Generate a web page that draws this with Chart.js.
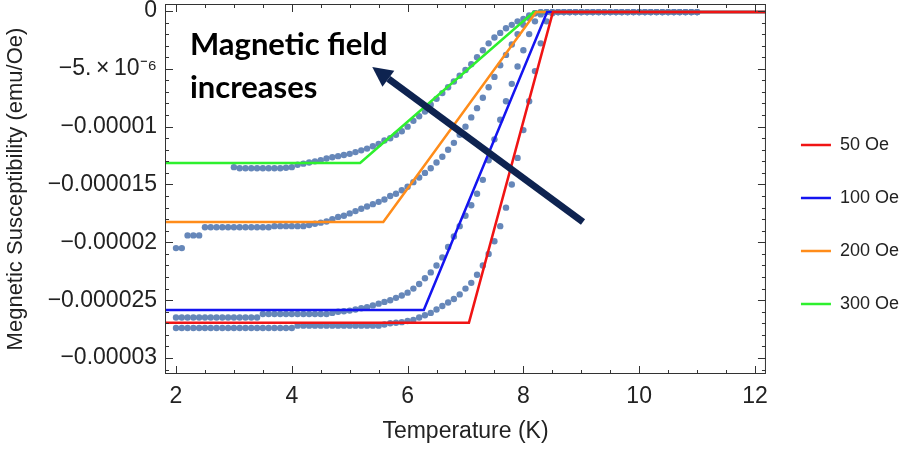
<!DOCTYPE html>
<html>
<head>
<meta charset="utf-8">
<script src="https://cdn.jsdelivr.net/npm/chart.js@4.4.0/dist/chart.umd.min.js"></script>
<style>
  html, body { margin: 0; padding: 0; background: #fff; }
</style>
</head>
<body>
<canvas id="chart" width="909" height="452"></canvas>
<script>
/* =======================
   DATA  (susceptibility in units of 1e-6 emu/Oe)
======================= */
const temps = [2.0,2.1,2.2,2.3,2.4,2.5,2.6,2.7,2.8,2.9,3.0,3.1,3.2,3.3,3.4,3.5,3.6,3.7,3.8,3.9,
  4.0,4.1,4.2,4.3,4.4,4.5,4.6,4.7,4.8,4.9,5.0,5.1,5.2,5.3,5.4,5.5,5.6,5.7,5.8,5.9,
  6.0,6.1,6.2,6.3,6.4,6.5,6.6,6.7,6.8,6.9,7.0,7.1,7.2,7.3,7.4,7.5,7.6,7.7,7.8,7.9,
  8.0,8.1,8.2,8.3,8.4,8.5,8.6,8.7,8.8,8.9,9.0,9.1,9.2,9.3,9.4,9.5,9.6,9.7,9.8,9.9,
  10.0,10.1,10.2,10.3,10.4,10.5,10.6,10.7,10.8,10.9,11.0];

const meas50 = [-27.4,-27.4,-27.4,-27.4,-27.4,-27.4,-27.4,-27.4,-27.4,-27.4,-27.4,-27.4,-27.4,-27.4,-27.4,-27.4,-27.4,-27.4,-27.4,-27.4,
  -27.4,-27.2,-27.2,-27.2,-27.2,-27.2,-27.2,-27.2,-27.2,-27.2,-27.2,-27.2,-27.2,-27.2,-27.2,-27.2,-27.1,-27.0,-26.95,-26.9,
  -26.8,-26.7,-26.5,-26.3,-26.1,-25.8,-25.5,-25.2,-24.9,-24.5,-24.0,-23.5,-22.8,-22.0,-21.0,-19.9,-18.6,-17.0,-15.0,-12.7,
  -10.3,-7.8,-5.2,-2.8,-0.9,-0.2,-0.1,-0.1,-0.1,-0.1,-0.1,-0.1,-0.1,-0.1,-0.1,-0.1,-0.1,-0.1,-0.1,-0.1,
  -0.1,-0.1,-0.1,-0.1,-0.1,-0.1,-0.1,-0.1,-0.1,-0.1,-0.1];

const meas100 = [-26.5,-26.5,-26.5,-26.5,-26.5,-26.5,-26.5,-26.5,-26.5,-26.5,-26.5,-26.5,-26.5,-26.5,-26.5,-26.2,-26.2,-26.2,-26.2,-26.2,
  -26.2,-26.2,-26.2,-26.2,-26.2,-26.2,-26.2,-26.1,-26.0,-25.95,-25.9,-25.8,-25.7,-25.6,-25.45,-25.3,-25.15,-25.0,-24.8,-24.6,
  -24.35,-24.0,-23.6,-23.1,-22.6,-22.0,-21.3,-20.4,-19.5,-18.6,-17.7,-16.8,-15.8,-14.6,-12.9,-11.1,-9.4,-7.8,-6.3,-4.8,
  -3.4,-2.0,-0.9,-0.3,-0.1,-0.1,-0.1,-0.1,-0.1,-0.1,-0.1,-0.1,-0.1,-0.1,-0.1,-0.1,-0.1,-0.1,-0.1,-0.1,
  -0.1,-0.1,-0.1,-0.1,-0.1,-0.1,-0.1,-0.1,-0.1,-0.1,-0.1];

const meas200 = [-20.5,-20.5,-19.4,-19.4,-19.4,-18.7,-18.7,-18.7,-18.7,-18.7,-18.7,-18.7,-18.7,-18.7,-18.7,-18.7,-18.7,-18.6,-18.6,-18.6,
  -18.6,-18.6,-18.6,-18.5,-18.4,-18.3,-18.2,-18.0,-17.8,-17.7,-17.5,-17.3,-17.1,-16.9,-16.7,-16.5,-16.3,-16.0,-15.8,-15.5,
  -15.2,-14.8,-14.4,-14.0,-13.6,-13.1,-12.6,-12.0,-11.4,-10.7,-10.0,-9.2,-8.4,-7.5,-6.6,-5.7,-4.7,-3.8,-2.9,-2.0,
  -1.2,-0.6,-0.2,-0.1,-0.1,-0.1,-0.1,-0.1,-0.1,-0.1,-0.1,-0.1,-0.1,-0.1,-0.1,-0.1,-0.1,-0.1,-0.1,-0.1,
  -0.1,-0.1,-0.1,-0.1,-0.1,-0.1,-0.1,-0.1,-0.1,-0.1,-0.1];

const meas300 = [null,null,null,null,null,null,null,null,null,null,-13.5,-13.6,-13.6,-13.6,-13.6,-13.6,-13.6,-13.6,-13.6,-13.55,
  -13.5,-13.3,-13.2,-13.1,-13.0,-12.9,-12.75,-12.65,-12.55,-12.45,-12.35,-12.2,-12.05,-11.9,-11.7,-11.5,-11.2,-11.0,-10.7,-10.4,
  -10.0,-9.5,-9.1,-8.7,-8.1,-7.6,-7.1,-6.6,-6.1,-5.6,-5.1,-4.6,-4.0,-3.4,-2.8,-2.3,-1.9,-1.5,-1.2,-0.9,
  -0.7,-0.4,-0.2,-0.1,-0.1,-0.1,-0.1,-0.1,-0.1,-0.1,-0.1,-0.1,-0.1,-0.1,-0.1,-0.1,-0.1,-0.1,-0.1,-0.1,
  -0.1,-0.1,-0.1,-0.1,-0.1,-0.1,-0.1,-0.1,-0.1,-0.1,-0.1];

// piecewise-linear model curves: [T, chi] corner points
const fitLabels = ['50 Oe', '100 Oe', '200 Oe', '300 Oe'];
const fitColors = ['#f01414', '#1414f0', '#ff8c1a', '#2ef02e'];
const fitT = [
  [1.81, 7.06, 8.51, 12.19],
  [1.81, 6.28, 8.41, 12.19],
  [1.81, 5.58, 8.22, 12.19],
  [1.81, 5.18, 8.18, 12.19]
];
const fitChi = [
  [-26.94, -26.94, -0.1, -0.1],
  [-25.84, -25.84, -0.1, -0.1],
  [-18.24, -18.24, -0.1, -0.1],
  [-13.14, -13.14, -0.1, -0.1]
];

const xTicks = [2, 4, 6, 8, 10, 12];
const yTicks = [0, -5, -10, -15, -20, -25, -30];
const yTickLabels = ['0', '\u22125.\u2009\u00d7\u200910\u207b\u2076', '\u22120.00001', '\u22120.000015',
  '\u22120.00002', '\u22120.000025', '\u22120.00003'];

/* =======================
   BUILD DATASETS
======================= */
const measured = [meas50, meas100, meas200, meas300];
const datasets = [];

fitLabels.forEach((label, i) => {
  datasets.push({
    label,
    data: fitT[i].map((t, k) => ({x: t, y: fitChi[i][k]})),
    showLine: true,
    borderColor: fitColors[i],
    backgroundColor: fitColors[i],
    borderWidth: 2.5,
    pointRadius: 0,
    tension: 0,
    order: 0
  });
});

measured.forEach((vals, i) => {
  datasets.push({
    label: 'data' + i,
    data: temps.map((t, k) => ({x: t, y: vals[k]})).filter(p => p.y !== null),
    showLine: false,
    pointRadius: 3.2,
    pointBorderWidth: 0,
    backgroundColor: 'rgba(94,129,181,0.95)',
    order: 1
  });
});

/* =======================
   FRAME WITH INWARD TICKS
======================= */
const framePlugin = {
  id: 'frame',
  afterDraw(chart) {
    const {ctx, chartArea: a, scales: {x, y}} = chart;
    ctx.save();
    ctx.strokeStyle = '#333';
    ctx.lineWidth = 1;
    ctx.strokeRect(a.left + 0.5, a.top + 0.5, a.right - a.left - 1, a.bottom - a.top - 1);
    ctx.beginPath();
    for (let v = Math.ceil(x.min * 2) / 2; v <= x.max; v += 0.5) {
      const len = xTicks.includes(v) ? 8 : 4;
      const px = Math.round(x.getPixelForValue(v)) + 0.5;
      ctx.moveTo(px, a.bottom); ctx.lineTo(px, a.bottom - len);
      ctx.moveTo(px, a.top); ctx.lineTo(px, a.top + len);
    }
    for (let v = Math.ceil(y.min); v <= y.max; v += 1) {
      const len = yTicks.includes(v) ? 8 : 4;
      const py = Math.round(y.getPixelForValue(v)) + 0.5;
      ctx.moveTo(a.left, py); ctx.lineTo(a.left + len, py);
      ctx.moveTo(a.right, py); ctx.lineTo(a.right - len, py);
    }
    ctx.stroke();
    ctx.restore();
  }
};

/* =======================
   ANNOTATION: TEXT + ARROW
======================= */
const noteText = ['Magnetic field', 'increases'];
const notePlugin = {
  id: 'note',
  afterDraw(chart) {
    const {ctx, scales: {x, y}} = chart;
    ctx.save();
    ctx.fillStyle = '#000';
    ctx.font = 'bold 31px Lato, "Open Sans", sans-serif';
    ctx.textBaseline = 'alphabetic';
    ctx.fillText(noteText[0], x.getPixelForValue(2.24), y.getPixelForValue(-3.8));
    ctx.fillText(noteText[1], x.getPixelForValue(2.24), y.getPixelForValue(-7.52));

    const x0 = x.getPixelForValue(9.03), y0 = y.getPixelForValue(-18.24);
    const x1 = x.getPixelForValue(5.39), y1 = y.getPixelForValue(-4.84);
    const ang = Math.atan2(y1 - y0, x1 - x0);
    const head = 20, half = 10;
    const bx = x1 - Math.cos(ang) * head, by = y1 - Math.sin(ang) * head;
    ctx.strokeStyle = '#0e2350';
    ctx.fillStyle = '#0e2350';
    ctx.lineWidth = 7;
    ctx.beginPath();
    ctx.moveTo(x0, y0);
    ctx.lineTo(bx, by);
    ctx.stroke();
    ctx.beginPath();
    ctx.moveTo(x1, y1);
    ctx.lineTo(bx + Math.sin(ang) * half, by - Math.cos(ang) * half);
    ctx.lineTo(bx - Math.sin(ang) * half, by + Math.cos(ang) * half);
    ctx.closePath();
    ctx.fill();
    ctx.restore();
  }
};

/* =======================
   CHART
======================= */
const fontFamily = '"Liberation Sans", Arial, sans-serif';
const ctx = document.getElementById('chart').getContext('2d');
new Chart(ctx, {
  type: 'scatter',
  data: {datasets},
  options: {
    responsive: false,
    animation: false,
    layout: {padding: {top: 4, bottom: 7, left: 0, right: 0}},
    plugins: {
      tooltip: {enabled: false},
      legend: {
        position: 'right',
        labels: {
          filter: item => fitLabels.includes(item.text),
          usePointStyle: true,
          pointStyle: 'line',
          pointStyleWidth: 30,
          padding: 35,
          color: '#222',
          font: {family: fontFamily, size: 18}
        }
      }
    },
    scales: {
      x: {
        type: 'linear',
        min: 1.81,
        max: 12.19,
        afterBuildTicks: s => { s.ticks = xTicks.map(v => ({value: v})); },
        afterFit: s => { s.height = 71; s.paddingLeft = 0; s.paddingRight = 0; },
        grid: {display: false, drawTicks: false},
        border: {display: false},
        ticks: {padding: 9, color: '#222', font: {family: fontFamily, size: 23}},
        title: {display: true, text: 'Temperature (K)', color: '#222',
          padding: {top: 0, bottom: 0}, font: {family: fontFamily, size: 23}}
      },
      y: {
        type: 'linear',
        min: -31.38,
        max: 0.6,
        afterBuildTicks: s => { s.ticks = yTicks.map(v => ({value: v})); },
        afterFit: s => { s.width = 165; s.paddingTop = 0; s.paddingBottom = 0; },
        grid: {display: false, drawTicks: false},
        border: {display: false},
        ticks: {padding: 8, color: '#222', font: {family: fontFamily, size: 23},
          callback: v => yTickLabels[yTicks.indexOf(v)]},
        title: {display: true, text: 'Megnetic Susceptibility (emu/Oe)', color: '#222',
          padding: {top: 3, bottom: 0}, font: {family: fontFamily, size: 22}}
      }
    }
  },
  plugins: [framePlugin, notePlugin]
});
</script>
</body>
</html>
